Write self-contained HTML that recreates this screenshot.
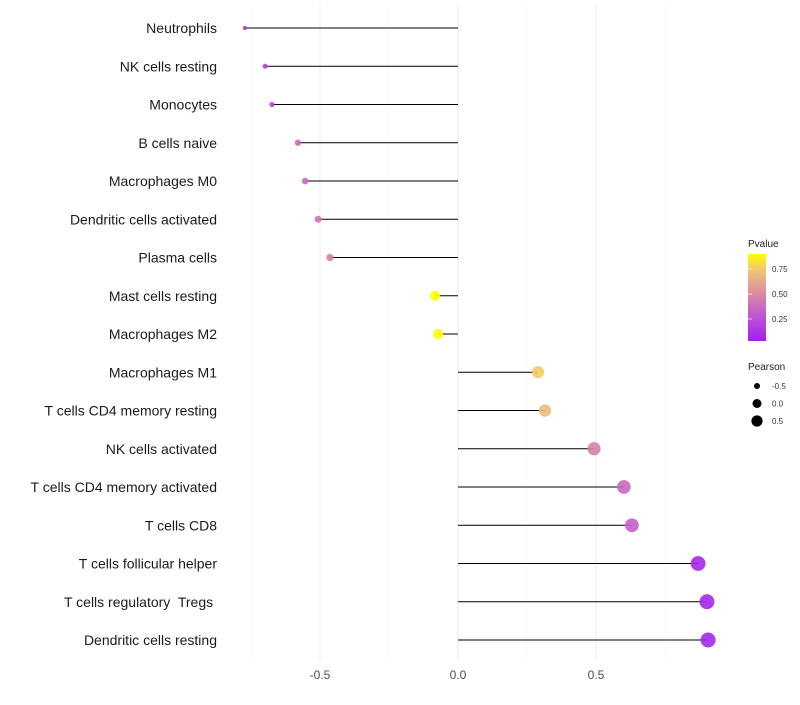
<!DOCTYPE html>
<html><head><meta charset="utf-8"><style>
body{margin:0;background:#fff;font-family:"Liberation Sans",sans-serif}
text{white-space:pre}
</style></head><body>
<svg id="chart" width="800" height="700" xmlns="http://www.w3.org/2000/svg">
<defs><linearGradient id="pg" x1="0" y1="1" x2="0" y2="0">
<stop offset="0" stop-color="#a020f0"/><stop offset="0.3" stop-color="#c057d0"/><stop offset="0.55" stop-color="#db8ca2"/><stop offset="0.8" stop-color="#f0c07a"/><stop offset="1" stop-color="#ffff00"/>
</linearGradient></defs>
<g id="grid"></g><g id="marks"></g><g id="labels"></g>
<g>
<text x="748" y="247" font-size="10" fill="#222">Pvalue</text>
<rect x="748" y="254" width="18" height="87" fill="url(#pg)"/>
<g id="cbt"></g>
<text x="748" y="370" font-size="10" fill="#222">Pearson</text>
<g id="szl"></g>
</g>
</svg>
<script>
const categories=["Neutrophils","NK cells resting","Monocytes","B cells naive","Macrophages M0","Dendritic cells activated","Plasma cells","Mast cells resting","Macrophages M2","Macrophages M1","T cells CD4 memory resting","NK cells activated","T cells CD4 memory activated","T cells CD8","T cells follicular helper","T cells regulatory  Tregs ","Dendritic cells resting"];
const pearson=[-0.772,-0.699,-0.674,-0.58,-0.554,-0.507,-0.464,-0.083,-0.072,0.29,0.315,0.493,0.601,0.63,0.87,0.902,0.906];
const pvalue=[0.1,0.15,0.2,0.35,0.35,0.4,0.45,0.93,0.93,0.75,0.7,0.45,0.35,0.3,0.04,0.04,0.04];
const xTicks=[-0.5,0,0.5];
const xTickLabels=["-0.5","0.0","0.5"];
const pTicks=[0.25,0.5,0.75];
const sizeVals=[-0.5,0,0.5];
const NS="http://www.w3.org/2000/svg";
const xs=v=>458+v*276;
const ys=i=>28+i*38.25;
const cy=p=>344-p*100;
const rs=v=>Math.sqrt(Math.max(2,28+31*v));
const stops=[[0,[160,32,240]],[0.3,[192,87,208]],[0.55,[219,140,162]],[0.8,[240,192,122]],[1,[255,255,0]]];
function col(p){p=Math.min(1,Math.max(0,p/0.9));for(let k=1;k<stops.length;k++){if(p<=stops[k][0]){const a=stops[k-1],b=stops[k];const t=(p-a[0])/(b[0]-a[0]);return "rgb("+a[1].map((c,j)=>Math.round(c+(b[1][j]-c)*t)).join(",")+")";}}return "rgb(255,255,0)";}
function mk(t,at,parent){const e=document.createElementNS(NS,t);for(const k in at)e.setAttribute(k,at[k]);document.getElementById(parent).appendChild(e);return e;}
for(let g=-1.0;g<=1.01;g+=0.25){const x=xs(g);if(x<225||x>730)continue;const major=Math.abs(g*2-Math.round(g*2))<1e-6;
const l=mk("line",{x1:x,x2:x,y1:5,y2:660,stroke:major?"#ebebeb":"#f4f4f4","stroke-width":major?1:0.6},"grid");

}
xTicks.forEach((v,i)=>{const t=mk("text",{x:xs(v),y:679,"font-size":12,fill:"#4d4d4d","text-anchor":"middle"},"labels");t.textContent=xTickLabels[i];

});
categories.forEach((c,i)=>{const y=ys(i);
const t=mk("text",{x:217,y:y+5,"font-size":14,fill:"#1a1a1a","text-anchor":"end"},"labels");t.textContent=c;


const l=mk("line",{x1:xs(0),x2:xs(pearson[i]),y1:y,y2:y,stroke:"#000","stroke-width":1},"marks");


const d=mk("circle",{cx:xs(pearson[i]),cy:y,r:rs(pearson[i]),fill:col(pvalue[i]),"fill-opacity":0.9},"marks");

});
pTicks.forEach(p=>{const y=cy(p);
const t=mk("text",{x:772,y:y+3,"font-size":8,fill:"#333"},"cbt");t.textContent=p.toFixed(2);


const l=mk("line",{x1:748,x2:752,y1:y,y2:y,stroke:"#fff","stroke-width":0.7},"cbt");

});
sizeVals.forEach((v,i)=>{const y=386+i*17.5;
const c=mk("circle",{cx:757,cy:y,r:rs(v)*0.85,fill:"#000"},"szl");


const t=mk("text",{x:772,y:y+3,"font-size":8,fill:"#333"},"szl");t.textContent=v.toFixed(1);

});
</script>
</body></html>
